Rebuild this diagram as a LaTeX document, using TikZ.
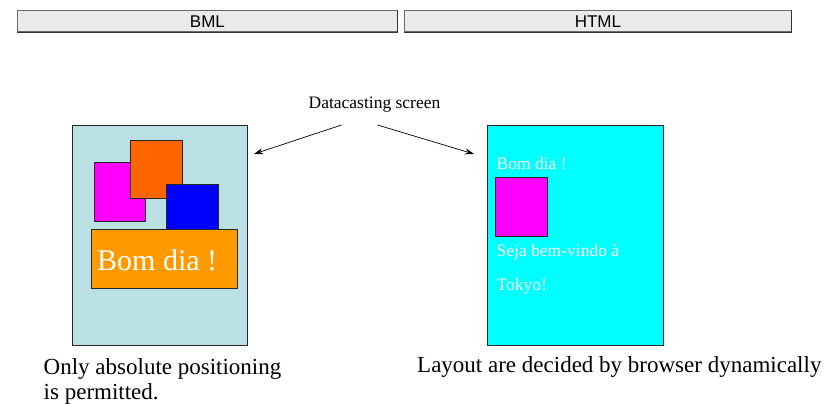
\documentclass[tikz,border=0pt]{standalone}
\usepackage{fontspec}
\setmainfont{Liberation Serif}
\newfontfamily\hdrfont{Liberation Sans}
\usetikzlibrary{arrows.meta}
\definecolor{hdrfill}{HTML}{EAEAEA}
\definecolor{hdrline}{HTML}{6A6A6A}
\definecolor{hdrdark}{HTML}{333333}
\definecolor{lscreen}{HTML}{BBE0E3}
\definecolor{rscreen}{HTML}{00FFFF}
\definecolor{mag}{HTML}{FF00FF}
\definecolor{org}{HTML}{FF6600}
\definecolor{blu}{HTML}{0000FF}
\definecolor{yor}{HTML}{FF9900}
\tikzset{
  hdr/.style={draw=hdrline, fill=hdrfill, line width=0.8pt, inner sep=0pt, anchor=north west},
  hdrshade/.style={draw=hdrdark, line width=1pt},
  hdrtxt/.style={font=\hdrfont\fontsize{17}{19}\selectfont, inner sep=0pt},
  blk/.style={draw=black!85, line width=0.8pt, inner sep=0pt, anchor=north west},
  conn/.style={-{Stealth[length=9pt,width=6pt]}, line width=0.7pt},
  txt/.style={inner sep=0pt, anchor=base west},
}
\begin{document}
\begin{tikzpicture}[x=1pt,y=-1pt]
\useasboundingbox (0,0) rectangle (825,404);
% headers
\node[hdr, minimum width=380pt, minimum height=21pt] (hbml) at (17,10.5) {};
\node[hdr, minimum width=387pt, minimum height=21pt] (hhtml) at (404,10.5) {};
\draw[hdrshade] (hbml.south west) -- (hbml.south east) -- (hbml.north east);
\draw[hdrshade] (hhtml.south west) -- (hhtml.south east) -- (hhtml.north east);
\node[hdrtxt] at (hbml.center) {BML};
\node[hdrtxt] at (hhtml.center) {HTML};
% left screen
\node[blk, fill=lscreen, minimum width=175pt, minimum height=220pt] (ls) at (71.5,125) {};
\node[blk, fill=mag, minimum width=51pt, minimum height=59pt] (lmag) at (93.5,162) {};
\node[blk, fill=org, minimum width=52pt, minimum height=58pt] (lorg) at (129.5,140) {};
\node[blk, fill=blu, minimum width=51.5pt, minimum height=45pt] (lblu) at (166,184) {};
\node[blk, fill=yor, minimum width=146pt, minimum height=59pt] (lbox) at (90.5,228.5) {};
\node[txt, text=white, font=\fontsize{30}{34}\selectfont] (lbom) at (97,270) {Bom dia !};
% right screen
\node[blk, fill=rscreen, minimum width=175.5pt, minimum height=220pt] (rs) at (487.3,125) {};
\node[txt, text=white, font=\fontsize{17.5}{20}\selectfont] (rbom) at (496.5,169) {Bom dia !};
\node[blk, fill=mag, minimum width=52pt, minimum height=58.5pt] (rmag) at (494.5,177) {};
\node[txt, text=white, font=\fontsize{17.5}{20}\selectfont] (rseja) at (496.5,256.5) {Seja bem-vindo à};
\node[txt, text=white, font=\fontsize{17.5}{20}\selectfont] (rtok) at (496.5,290.5) {Tokyo!};
% label and arrows
\node[inner sep=0pt, anchor=base, font=\fontsize{17.5}{20}\selectfont] (lab) at (374.5,109) {Datacasting screen};
\coordinate (la) at (341.5,125);
\coordinate (ra) at (377.5,125);
\coordinate (lt) at (254,154);
\coordinate (rt) at (474,154);
\draw[conn] (la) -- (lt);
\draw[conn] (ra) -- (rt);
% captions
\node[txt, font=\fontsize{23}{26}\selectfont] (c1) at (43.5,374) {Only absolute positioning};
\node[txt, font=\fontsize{23}{26}\selectfont] (c2) at (43.5,399) {is permitted.};
\node[txt, font=\fontsize{23}{26}\selectfont] (c3) at (417,372.5) {Layout are decided by browser dynamically};
\end{tikzpicture}
\end{document}
